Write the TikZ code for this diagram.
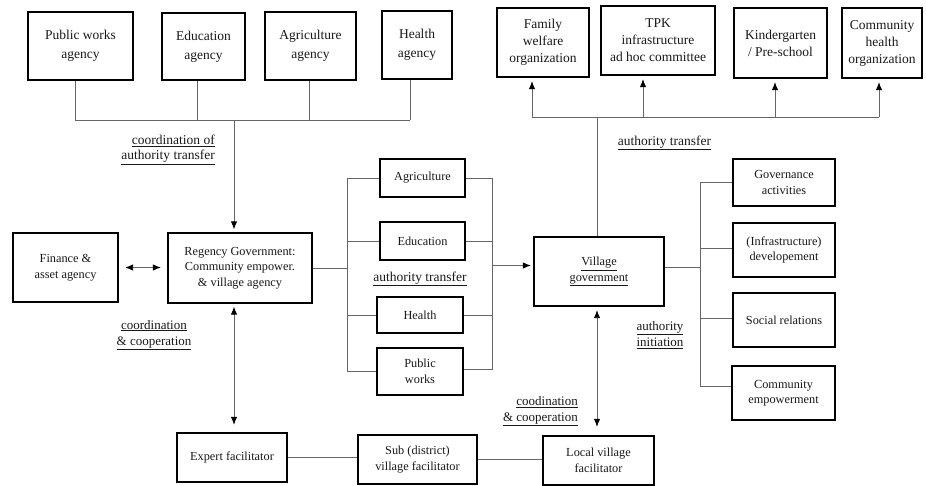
\documentclass[tikz,border=0pt]{standalone}
\usepackage{fontspec}
\setmainfont{Liberation Serif}
\usetikzlibrary{arrows.meta}
\begin{document}
\begin{tikzpicture}[x=1pt,y=-1pt,
  box/.style={draw=black, line width=2.3pt, inner sep=0pt, align=center, text=black!90},
  fA/.style={font=\fontsize{13.5}{19}\selectfont},
  fB/.style={font=\fontsize{13.5}{17}\selectfont},
  fC/.style={font=\fontsize{12.3}{15.5}\selectfont},
  conn/.style={draw=black!60, line width=0.9pt},
  tip/.tip={Latex[length=8pt,width=6.5pt,color=black]},
  arr/.style={conn, -tip},
  darr/.style={conn, tip-tip},
  lbl/.style={inner sep=0pt, text=black!90, font=\fontsize{13.5}{15}\selectfont},
]
\useasboundingbox[fill=white] (0,0) rectangle (926,486);

% top-left agencies
\node[box,fA,minimum width=105pt,minimum height=68pt] (pwa) at (80.5,46) {Public works\\agency};
\node[box,fA,minimum width=83pt,minimum height=67pt] (eda) at (203.5,46.5) {Education\\agency};
\node[box,fA,minimum width=91pt,minimum height=68pt] (aga) at (310.5,46) {Agriculture\\agency};
\node[box,fA,minimum width=70pt,minimum height=68pt] (hea) at (417,45) {Health\\agency};

% top-right organizations
\node[box,fB,minimum width=92pt,minimum height=69pt] (fwo) at (543,42.5) {Family\\welfare\\organization};
\node[box,fB,minimum width=114pt,minimum height=69pt] (tpk) at (658,40.5) {TPK\\infrastructure\\ad hoc committee};
\node[box,fB,minimum width=93pt,minimum height=70pt] (kin) at (780.5,43) {Kindergarten\\/ Pre-school};
\node[box,fB,minimum width=80pt,minimum height=70pt] (cho) at (882,43) {Community\\health\\organization};

% middle
\node[box,fC,minimum width=105pt,minimum height=69pt] (fin) at (65.5,267.5) {Finance \&\\asset agency};
\node[box,fC,minimum width=144pt,minimum height=70pt] (reg) at (240,268) {Regency Government:\\Community empower.\\\& village agency};
\node[box,fC,minimum width=85pt,minimum height=38pt] (agr) at (422.5,178) {Agriculture};
\node[box,fC,minimum width=85pt,minimum height=38pt] (edu) at (422.5,241) {Education};
\node[box,fC,minimum width=86pt,minimum height=36pt] (hlt) at (420,315) {Health};
\node[box,fC,minimum width=86pt,minimum height=47pt] (pwk) at (420,371.5) {Public\\works};
\node[box,fC,minimum width=130pt,minimum height=69pt] (vil) at (599,271.5) {\underline{Village}\\\underline{government}};
\node[box,fC,minimum width=102pt,minimum height=47pt] (gov) at (784,182.5) {Governance\\activities};
\node[box,fC,minimum width=102pt,minimum height=54pt] (inf) at (784,250) {(Infrastructure)\\developement};
\node[box,fC,minimum width=102pt,minimum height=54pt] (soc) at (784,320) {Social relations};
\node[box,fC,minimum width=103pt,minimum height=54pt] (cem) at (783.5,393) {Community\\empowerment};

% bottom
\node[box,fC,minimum width=110pt,minimum height=49pt] (exp) at (232,457.5) {Expert facilitator};
\node[box,fC,minimum width=119pt,minimum height=49pt] (sub) at (417.5,459.5) {Sub (district)\\village facilitator};
\node[box,fC,minimum width=111pt,minimum height=49pt] (loc) at (598.5,460.5) {Local village\\facilitator};

% coordinates
\coordinate (b1) at (75,120);
\coordinate (b2) at (197,120);
\coordinate (b3) at (309,120);
\coordinate (b4) at (410,120);
\coordinate (bc) at (234,120);
\coordinate (t1) at (532,117);
\coordinate (t2) at (643,117);
\coordinate (t3) at (775,117);
\coordinate (t4) at (879,117);
\coordinate (tc) at (597,117);
\coordinate (lb) at (347,0);
\coordinate (rb) at (492,0);
\coordinate (vb) at (700,0);
\coordinate (ax) at (234,0);
\coordinate (bx) at (597,0);

% top-left bus
\draw[conn] (b1 |- pwa.south) -- (b1);
\draw[conn] (b2 |- eda.south) -- (b2);
\draw[conn] (b3 |- aga.south) -- (b3);
\draw[conn] (b4 |- hea.south) -- (b4);
\draw[conn] (b1) -- (b4);
\draw[arr, shorten >=2.5pt] (bc) -- (bc |- reg.north);

% top-right bus
\draw[conn] (t1) -- (t4);
\draw[arr, shorten >=3pt] (t1) -- (t1 |- fwo.south);
\draw[arr, shorten >=3pt] (t2) -- (t2 |- tpk.south);
\draw[arr, shorten >=3pt] (t3) -- (t3 |- kin.south);
\draw[arr, shorten >=3pt] (t4) -- (t4 |- cho.south);
\draw[conn] (tc |- vil.north) -- (tc);

% finance <-> regency
\draw[darr, shorten <=6pt, shorten >=6pt] (fin.east) -- (fin.east -| reg.west);

% left bracket
\draw[conn] (reg.east) -- (reg.east -| lb);
\draw[conn] (agr.west -| lb) -- (pwk.west -| lb);
\draw[conn] (agr.west -| lb) -- (agr.west);
\draw[conn] (edu.west -| lb) -- (edu.west);
\draw[conn] (hlt.west -| lb) -- (hlt.west);
\draw[conn] (pwk.west -| lb) -- (pwk.west);

% right bracket
\draw[conn] (agr.east -| rb) -- ([yshift=2pt]pwk.east -| rb);
\draw[conn] (agr.east) -- (agr.east -| rb);
\draw[conn] (edu.east) -- (edu.east -| rb);
\draw[conn] (hlt.east) -- (hlt.east -| rb);
\draw[conn] ([yshift=2pt]pwk.east) -- ([yshift=2pt]pwk.east -| rb);
\draw[arr, shorten >=2pt] ([yshift=6pt]vil.west -| rb) -- ([yshift=6pt]vil.west);

% village right bracket
\draw[conn] ([yshift=4pt]vil.east) -- ([yshift=4pt]vil.east -| vb);
\draw[conn] (gov.west -| vb) -- ([yshift=7pt]cem.west -| vb);
\draw[conn] (gov.west -| vb) -- (gov.west);
\draw[conn] ([yshift=2pt]inf.west -| vb) -- ([yshift=2pt]inf.west);
\draw[conn] ([yshift=2pt]soc.west -| vb) -- ([yshift=2pt]soc.west);
\draw[conn] ([yshift=7pt]cem.west -| vb) -- ([yshift=7pt]cem.west);

% vertical double arrows
\draw[darr, shorten <=2.5pt, shorten >=7pt] (ax |- reg.south) -- (ax |- exp.north);
\draw[darr, shorten <=3pt, shorten >=8pt] (bx |- vil.south) -- (bx |- loc.north);

% bottom connectors
\draw[conn] (exp.east) -- (exp.east -| sub.west);
\draw[conn] (sub.east) -- (sub.east -| loc.west);

% labels
\node[lbl, align=right, anchor=east] (l1) at (215,150) {\underline{coordination of}\\\underline{authority transfer}};
\node[lbl, align=center] (l2) at (664.5,143) {\underline{authority transfer}};
\node[lbl, align=center] (l3) at (420,279) {\underline{authority transfer}};
\node[lbl, align=center, font=\fontsize{13}{16}\selectfont] (l4) at (154,335) {\underline{coordination}\\\underline{\& cooperation}};
\node[lbl, align=center, font=\fontsize{13}{16}\selectfont] (l5) at (660,335) {\underline{authority}\\\underline{initiation}};
\node[lbl, align=right, anchor=east, font=\fontsize{13}{15.5}\selectfont] (l6) at (578,411.5) {\underline{coodination}\\\underline{\& cooperation}};
\end{tikzpicture}
\end{document}
